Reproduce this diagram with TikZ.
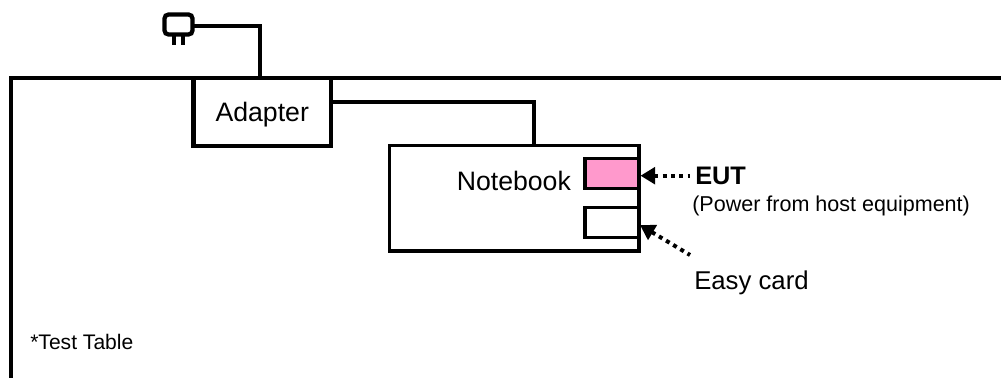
\documentclass[tikz,border=0pt]{standalone}
\usepackage{fontspec}
\setmainfont{Liberation Sans}
\usetikzlibrary{arrows.meta}

\definecolor{eutpink}{HTML}{FF99CC}

\tikzset{
    boxed/.style={draw, line width=3.2pt, inner sep=0pt, outer sep=0pt, anchor=north west},
    thinboxed/.style={boxed, line width=2.9pt},
    wire/.style={line width=3.1pt, line join=miter},
    pin/.style={line width=2.8pt},
    pointer/.style={line width=3pt, dash pattern=on 3pt off 3.25pt, {Triangle[length=11pt,width=12.5pt]}-},
    label/.style={inner sep=0pt, anchor=base west},
}

\begin{document}
\begin{tikzpicture}[x=0.75pt,y=-0.75pt]
        \useasboundingbox (0,0) rectangle (1001,378);
        % test table
        \coordinate (tableBottom) at (11,378);
        \coordinate (tableCorner) at (11,78);
        \coordinate (tableEnd) at (1001,78);
        \draw[wire] (tableBottom) -- (tableCorner) -- (tableEnd);
        \node[label, font=\fontsize{15.8}{18}\selectfont] (table) at (30,349) {*Test Table};
        % plug
        \node[boxed, rounded corners=3pt, minimum width=21pt, minimum height=15pt] (plug) at (164.5,14.5) {};
        \coordinate (pinA) at (173.7,35);
        \coordinate (pinB) at (183,35);
        \draw[pin] (pinA) -- ++(0,10);
        \draw[pin] (pinB) -- ++(0,10);
        % adapter
        \node[boxed, minimum width=103.1pt, minimum height=51pt, text depth=0pt, font=\fontsize{20}{24}\selectfont] (adapter) at (193.5,78) {Adapter};
        \coordinate (cordTop) at (260.3,26);
        \coordinate (cordEnd) at (260.3,78);
        \draw[wire] (plug.east |- cordTop) -- (cordTop) -- (cordEnd);
        % notebook
        \node[thinboxed, minimum width=187.1pt, minimum height=79.1pt] (notebook) at (389.5,145.5) {};
        \node[label, font=\fontsize{20}{24}\selectfont] (notebookText) at (456.5,190.7) {Notebook};
        \node[thinboxed, fill=eutpink, minimum width=40.5pt, minimum height=22.5pt] (eut) at (585,158.5) {};
        \node[thinboxed, minimum width=40.5pt, minimum height=22.5pt] (card) at (585,207.5) {};
        \coordinate (cableEnd) at (533.7,145.5);
        \draw[wire] (adapter.east |- 0,102) -- (cableEnd |- 0,102) -- (cableEnd);
        % labels and arrows
        \node[label, font=\bfseries\fontsize{19}{22}\selectfont] (eutText) at (695,184.3) {EUT};
        \node[label, font=\fontsize{16.15}{19}\selectfont] (hostText) at (692,211) {(Power from host equipment)};
        \node[label, font=\fontsize{19.3}{23}\selectfont] (cardText) at (694,289) {Easy card};
        \coordinate (eutTip) at (640.5,175.7);
        \coordinate (eutStart) at (690,175.7);
        \coordinate (cardTip) at (640,225);
        \coordinate (cardStart) at (690,255);
        \draw[pointer] (eutTip) -- (eutStart);
        \draw[pointer] (cardTip) -- (cardStart);
    \end{tikzpicture}
\end{document}
